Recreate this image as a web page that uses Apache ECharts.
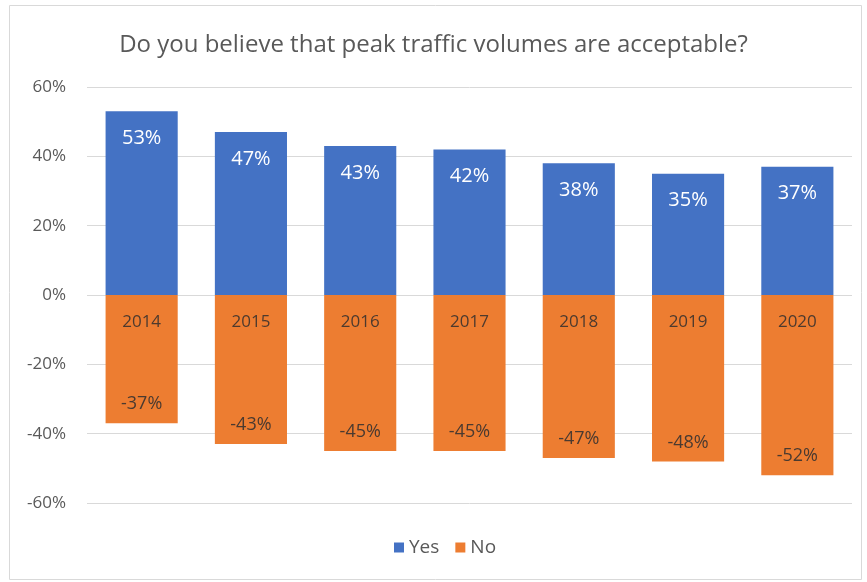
<!DOCTYPE html>
<html><head><meta charset="utf-8">
<script src="https://cdn.jsdelivr.net/npm/echarts@6/dist/echarts.min.js"></script>
<style>html,body{margin:0;padding:0;background:#fff}#c{width:867px;height:582px}</style>
</head><body><div id="c"></div>
<script>
const years = ['2014','2015','2016','2017','2018','2019','2020'];
const yesValues = [53, 47, 43, 42, 38, 35, 37];
const noValues = [-37, -43, -45, -45, -47, -48, -52];
const yTicks = [-60, -40, -20, 0, 20, 40, 60];

const chart = echarts.init(document.getElementById('c'));
const font = '"Open Sans", "Noto Sans", sans-serif';
chart.setOption({
  animation: false,
  textStyle: {fontFamily: font},
  graphic: [{type:'rect', shape:{x:9.5,y:5.5,width:852,height:574}, style:{fill:'none', stroke:'#d9d9d9', lineWidth:1}}],
  title: {text: 'Do you believe that peak traffic volumes are acceptable?', left: 'center', top: 28,
    textStyle: {fontFamily: font, fontSize: 24, fontWeight: 'normal', color: '#595959'}},
  legend: {bottom: 20, left: 389, itemWidth: 10, itemHeight: 10, itemGap: 16, icon: 'rect',
    textStyle: {fontFamily: font, fontSize: 19, color: '#595959'}, data: ['Yes','No']},
  grid: {left: 87, right: 15, top: 87, bottom: 79},
  xAxis: {type: 'category', data: years, offset: -208, z: 10,
    axisLine: {show: false, onZero: false}, axisTick: {show: false},
    axisLabel: {margin: 19, color: '#4d3a2e', fontSize: 17, fontFamily: font}},
  yAxis: {type: 'value', min: -60, max: 60, interval: 20,
    axisLabel: {formatter: v => v + '%', color: '#595959', fontSize: 17, margin: 21, fontFamily: font},
    splitLine: {lineStyle: {color: '#d9d9d9'}}, axisLine: {show: false}, axisTick: {show: false}},
  series: [
    {name: 'Yes', type: 'bar', data: yesValues, barWidth: '66%', barGap: '-100%',
      itemStyle: {color: '#4472C4'},
      label: {show: true, position: 'insideTop', distance: 17, formatter: p => p.value + '%', color: '#fff', fontSize: 20, fontFamily: font}},
    {name: 'No', type: 'bar', data: noValues, barWidth: '66%',
      itemStyle: {color: '#ED7D31'},
      label: {show: true, position: 'insideBottom', distance: 10, formatter: p => p.value + '%', color: '#4a3a30', fontSize: 18, fontFamily: font}}
  ]
});
</script></body></html>
